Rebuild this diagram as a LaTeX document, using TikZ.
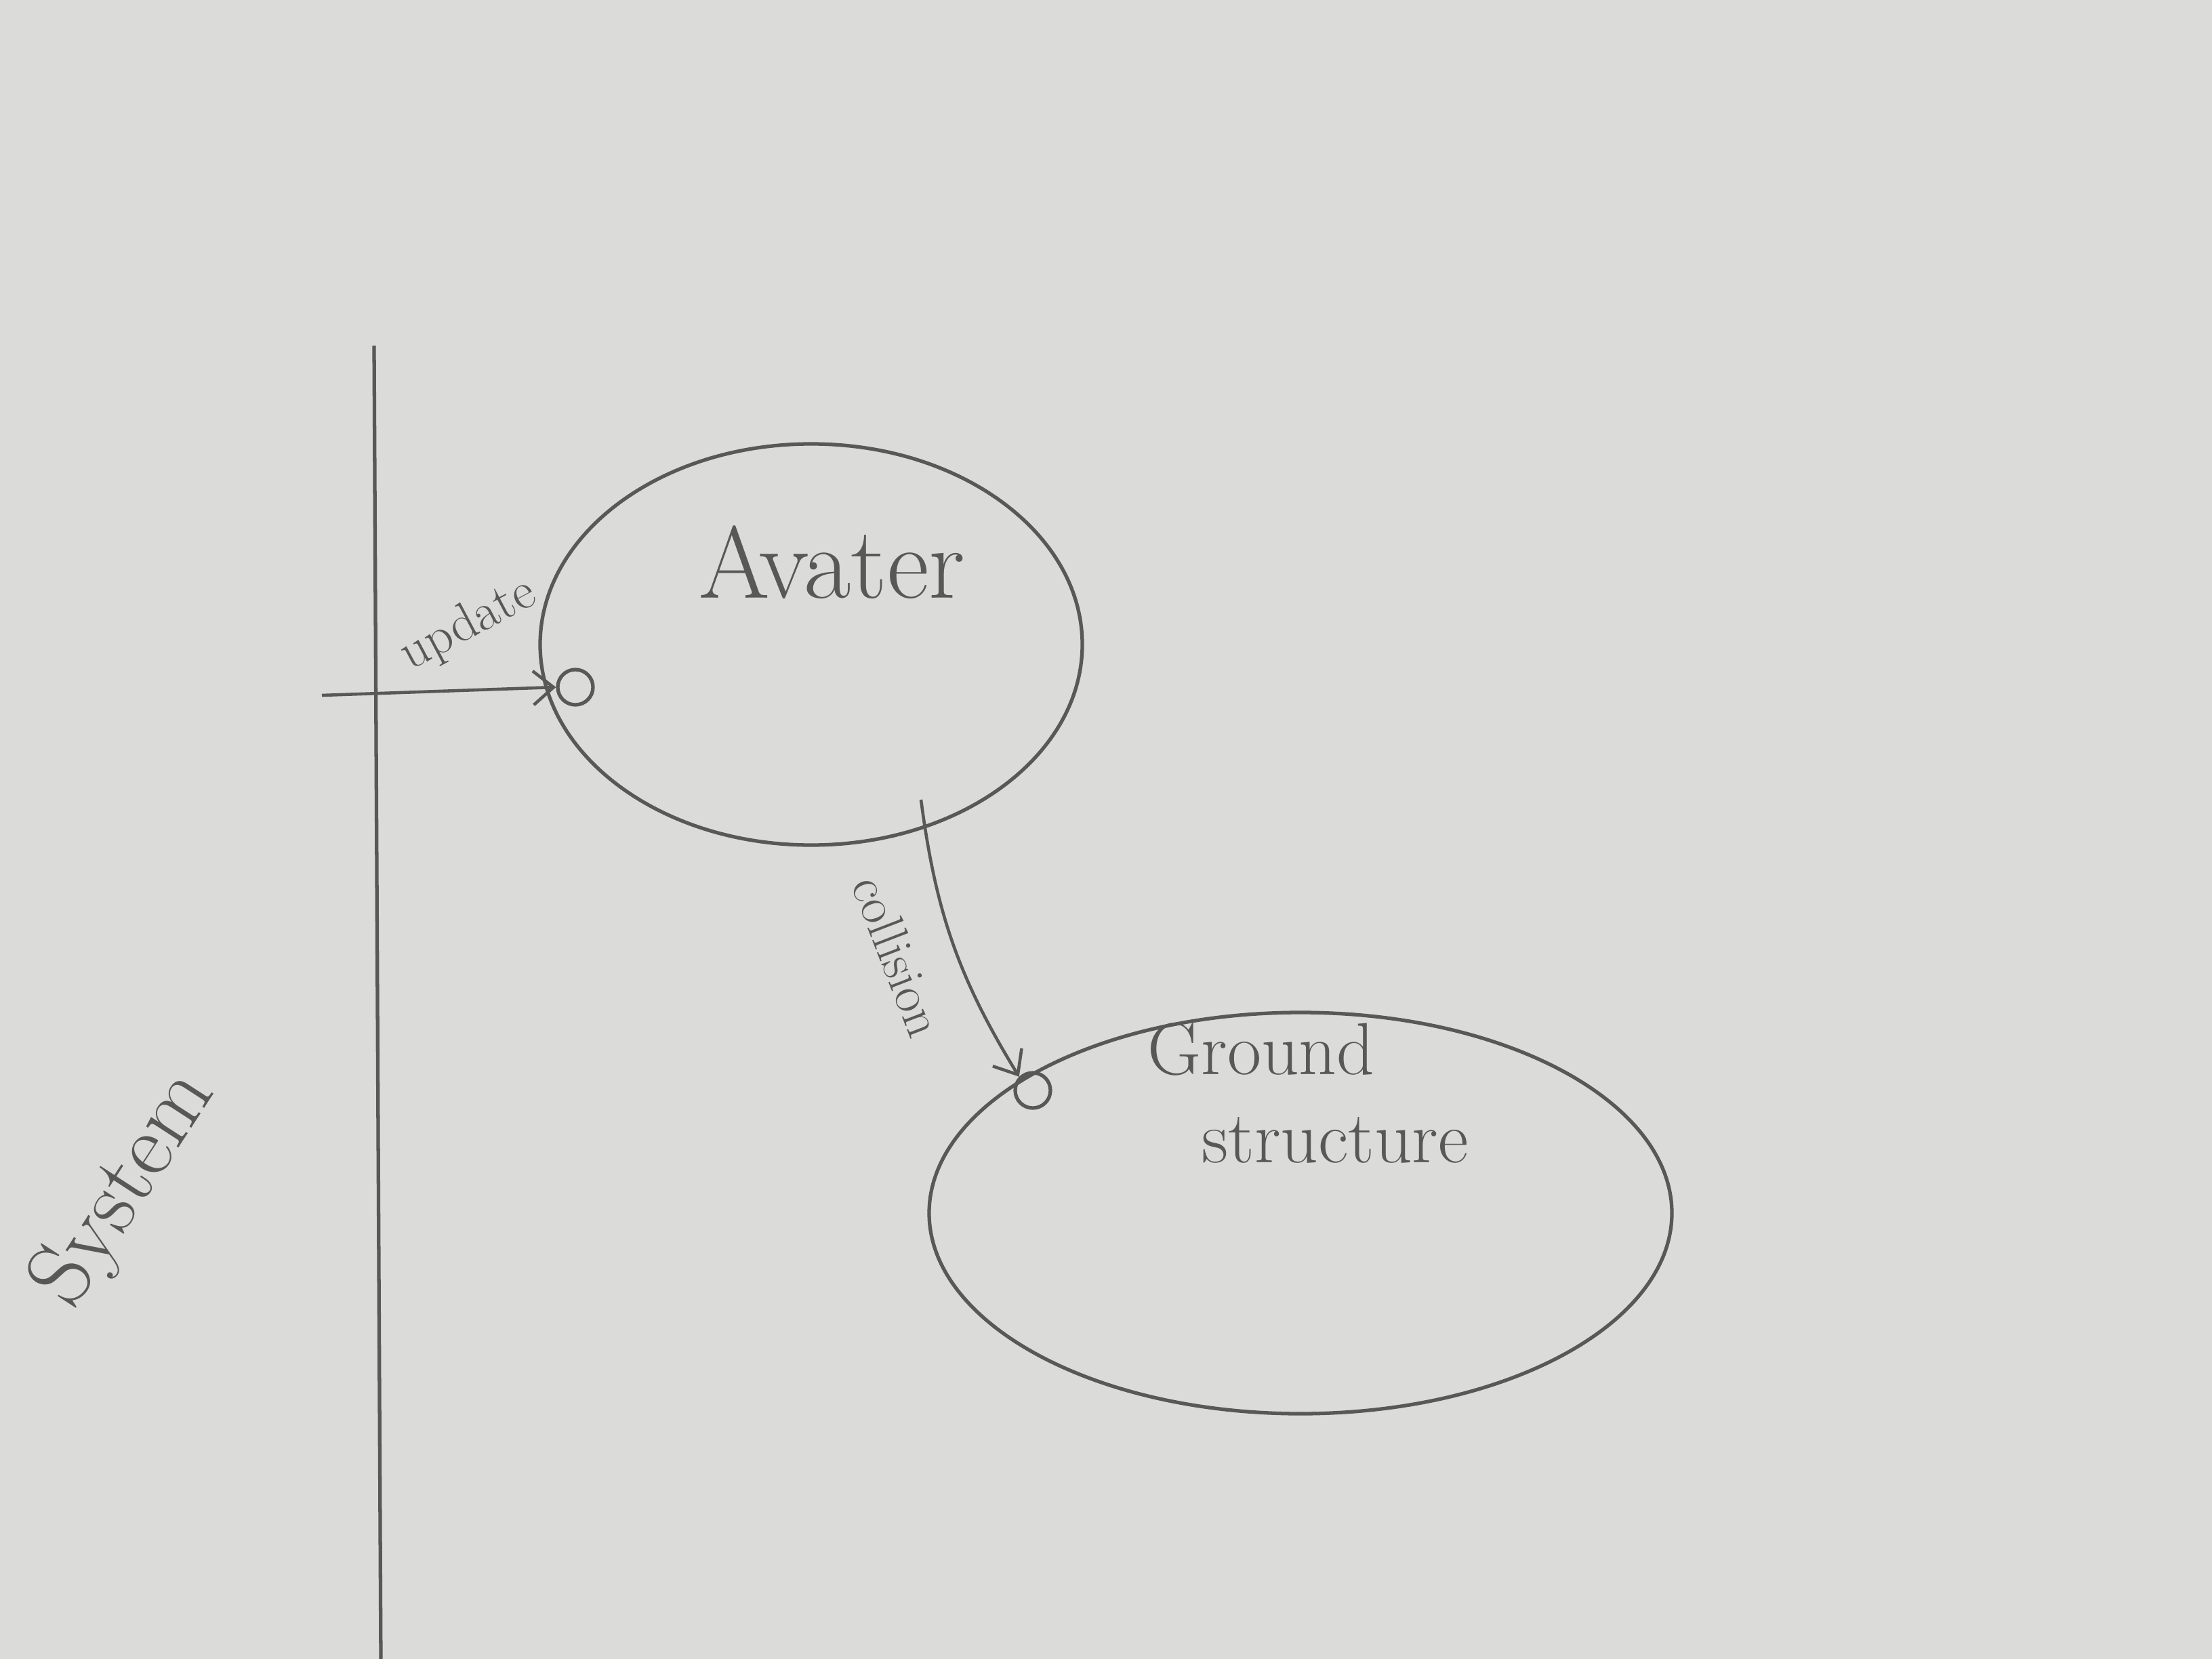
\documentclass[tikz,border=0pt]{standalone}
\usepackage{fontspec}
\usepackage{xcolor}
\usepackage{tikz}
\usetikzlibrary{shapes,positioning,calc,arrows.meta}
\definecolor{paper}{RGB}{219,219,217}
\definecolor{pencil}{RGB}{88,88,88}
\begin{document}
\begin{tikzpicture}
 \tikzset{blob/.style={ellipse, draw=pencil, line width=1.5pt},
  port/.style={circle, draw=pencil, line width=1.5pt, minimum size=5.2mm, inner sep=0pt},
  wire/.style={draw=pencil, line width=1.3pt, >={Straight Barb[length=3mm,width=5mm]}},
  hand/.style={text=pencil, inner sep=1pt}};
  \fill[paper] (0,0) rectangle (32.64,-24.48);
  \useasboundingbox (0,0) rectangle (32.64,-24.48);
  % system boundary
  \coordinate (systop) at (5.52,-5.10);
  \coordinate (sysbot) at (5.62,-24.48);
  \draw[pencil, line width=1.5pt] (systop) -- (sysbot);
  \node[hand, rotate=57, font=\fontsize{38}{44}\selectfont] (system) at (1.85,-17.55) {System};
  % avatar
  \node[blob, minimum width=8cm, minimum height=5.92cm] (avatar) at (11.97,-9.51) {};
  \node[hand, font=\fontsize{43}{50}\selectfont] (avatarname) at (12.28,-8.30) {Avater};
  \node[port] (updport) at (8.49,-10.14) {};
  \coordinate (updin) at (4.75,-10.26);
  \draw[wire, ->] (updin) -- (updport.west) node[pos=0.68, above=6mm, hand, rotate=28, font=\fontsize{22}{26}\selectfont] (updlabel) {update};
  % ground structure
  \node[blob, minimum width=10.96cm, minimum height=5.92cm] (ground) at (19.19,-17.90) {};
  \node[hand, align=left, font=\fontsize{31}{37}\selectfont] (groundname) at (19.30,-16.13) {Ground\\\hspace{0.8cm}structure};
  \node[port] (gndport) at (15.24,-16.09) {};
  \coordinate (colstart) at (13.59,-11.80);
  \draw[wire, ->] (colstart) to[bend right=12] (gndport.north west);
  \node[hand, rotate=-69, font=\fontsize{22}{26}\selectfont] (collabel) at (13.25,-14.11) {collision};
\end{tikzpicture}
\end{document}
